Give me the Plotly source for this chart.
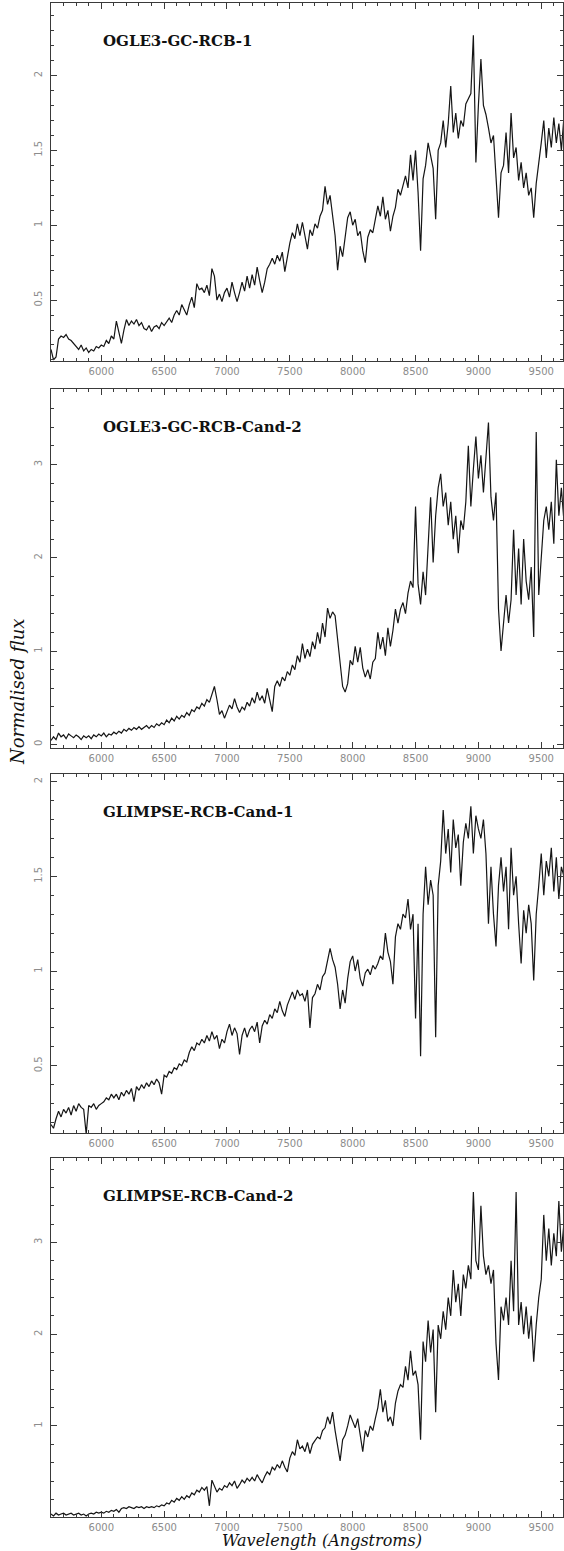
import plotly.graph_objects as go
from plotly.subplots import make_subplots

# Wavelength grid of the resampled spectra (Angstroms)
WAVELENGTH = list(range(5600, 9700, 20))

STAR_NAMES = [
    "OGLE3-GC-RCB-1",
    "OGLE3-GC-RCB-Cand-2",
    "GLIMPSE-RCB-Cand-1",
    "GLIMPSE-RCB-Cand-2",
]

FLUX_OGLE3_RCB_1 = [
    0.17, 0.10, 0.12, 0.24, 0.26,  0.25, 0.27, 0.24, 0.23, 0.21,
    0.19, 0.17, 0.20, 0.16, 0.18,  0.15, 0.17, 0.16, 0.19, 0.18,
    0.20, 0.19, 0.23, 0.21, 0.26,  0.24, 0.36, 0.28, 0.21, 0.30,
    0.37, 0.33, 0.36, 0.34, 0.37,  0.33, 0.35, 0.31, 0.30, 0.33,
    0.29, 0.32, 0.33, 0.31, 0.35,  0.33, 0.36, 0.38, 0.35, 0.40,
    0.43, 0.40, 0.47, 0.44, 0.40,  0.47, 0.52, 0.45, 0.61, 0.57,
    0.58, 0.55, 0.60, 0.53, 0.71,  0.66, 0.50, 0.54, 0.49, 0.55,
    0.58, 0.52, 0.62, 0.55, 0.49,  0.55, 0.62, 0.56, 0.66, 0.58,
    0.67, 0.60, 0.72, 0.63, 0.55,  0.62, 0.71, 0.74, 0.78, 0.74,
    0.80, 0.76, 0.82, 0.69, 0.79,  0.88, 0.95, 0.91, 1.01, 0.93,
    1.02, 0.92, 0.84, 0.97, 0.93,  1.01, 0.98, 1.06, 1.10, 1.26,
    1.14, 1.20, 1.06, 0.93, 0.70,  0.86, 0.79, 0.93, 1.05, 1.09,
    1.00, 1.04, 0.93, 0.96, 0.83,  0.75, 0.92, 0.97, 0.95, 1.04,
    1.13, 1.06, 1.19, 1.04, 1.10,  0.96, 1.06, 1.12, 1.24, 1.20,
    1.27, 1.33, 1.25, 1.47, 1.30,  1.50, 1.22, 0.83, 1.31, 1.40,
    1.55, 1.47, 1.38, 1.04, 1.50,  1.55, 1.70, 1.52, 1.68, 1.93,
    1.62, 1.75, 1.58, 1.70, 1.66,  1.81, 1.85, 1.88, 2.27, 1.42,
    1.80, 2.11, 1.80, 1.74, 1.65,  1.55, 1.60, 1.30, 1.05, 1.35,
    1.40, 1.62, 1.35, 1.75, 1.45,  1.52, 1.30, 1.42, 1.25, 1.35,
    1.20, 1.25, 1.05, 1.28, 1.40,  1.55, 1.70, 1.45, 1.65, 1.52,
    1.72, 1.55, 1.68, 1.50, 1.72,
]

FLUX_OGLE3_RCB_CAND_2 = [
    0.04, 0.08, 0.05, 0.12, 0.08,  0.10, 0.06, 0.11, 0.09, 0.07,
    0.10, 0.08, 0.05, 0.09, 0.07,  0.09, 0.06, 0.10, 0.08, 0.11,
    0.09, 0.12, 0.08, 0.11, 0.10,  0.13, 0.11, 0.14, 0.12, 0.16,
    0.14, 0.17, 0.15, 0.18, 0.16,  0.19, 0.16, 0.18, 0.20, 0.17,
    0.20, 0.18, 0.22, 0.20, 0.23,  0.21, 0.26, 0.23, 0.28, 0.25,
    0.30, 0.27, 0.31, 0.29, 0.34,  0.31, 0.37, 0.35, 0.40, 0.38,
    0.44, 0.41, 0.48, 0.45, 0.53,  0.62, 0.48, 0.32, 0.36, 0.28,
    0.35, 0.42, 0.38, 0.49, 0.40,  0.34, 0.40, 0.37, 0.45, 0.41,
    0.50, 0.44, 0.56, 0.47, 0.52,  0.44, 0.60, 0.48, 0.35, 0.62,
    0.68, 0.62, 0.72, 0.68, 0.78,  0.74, 0.85, 0.80, 0.95, 0.88,
    1.08, 0.92, 1.02, 0.94, 1.10,  1.02, 1.20, 1.08, 1.30, 1.15,
    1.46, 1.35, 1.42, 1.38, 1.10,  0.82, 0.62, 0.56, 0.65, 0.90,
    0.85, 1.05, 0.88, 1.04, 0.82,  0.72, 0.80, 0.70, 0.88, 0.92,
    1.20, 1.02, 1.15, 0.95, 1.25,  1.05, 1.22, 1.45, 1.30, 1.45,
    1.52, 1.40, 1.62, 1.75, 1.68,  2.55, 1.72, 1.50, 1.85, 1.60,
    2.10, 2.65, 1.95, 2.45, 2.75,  2.90, 2.55, 2.70, 2.35, 2.60,
    2.20, 2.45, 2.05, 2.40, 2.30,  2.60, 3.20, 2.55, 2.95, 3.30,
    2.85, 3.10, 2.70, 3.05, 3.45,  2.65, 2.40, 2.70, 1.45, 1.00,
    1.35, 1.60, 1.30, 1.55, 2.30,  1.60, 2.10, 1.50, 2.20, 1.75,
    1.55, 1.90, 1.15, 3.35, 1.60,  2.00, 2.40, 2.55, 2.30, 2.60,
    2.15, 3.05, 2.45, 2.75, 2.40,
]

FLUX_GLIMPSE_RCB_CAND_1 = [
    0.19, 0.17, 0.22, 0.26, 0.23,  0.27, 0.25, 0.28, 0.24, 0.29,
    0.26, 0.30, 0.28, 0.27, 0.14,  0.29, 0.28, 0.30, 0.27, 0.29,
    0.30, 0.31, 0.33, 0.32, 0.35,  0.33, 0.35, 0.32, 0.36, 0.34,
    0.37, 0.35, 0.38, 0.31, 0.39,  0.37, 0.40, 0.38, 0.41, 0.39,
    0.42, 0.40, 0.43, 0.41, 0.35,  0.45, 0.44, 0.47, 0.46, 0.49,
    0.48, 0.51, 0.50, 0.53, 0.52,  0.57, 0.60, 0.58, 0.62, 0.61,
    0.64, 0.62, 0.66, 0.63, 0.68,  0.64, 0.66, 0.59, 0.64, 0.62,
    0.68, 0.72, 0.66, 0.70, 0.67,  0.56, 0.66, 0.70, 0.65, 0.69,
    0.71, 0.68, 0.73, 0.62, 0.71,  0.74, 0.72, 0.77, 0.75, 0.80,
    0.78, 0.84, 0.79, 0.76, 0.82,  0.86, 0.89, 0.85, 0.90, 0.87,
    0.88, 0.84, 0.90, 0.70, 0.86,  0.88, 0.93, 0.90, 0.97, 0.99,
    1.05, 1.12, 1.06, 1.02, 0.93,  0.80, 0.90, 0.83, 0.96, 1.05,
    1.08, 1.00, 1.06, 0.96, 0.92,  0.99, 1.01, 0.98, 1.03, 1.01,
    1.04, 1.08, 1.06, 1.20, 1.10,  1.05, 0.93, 1.18, 1.25, 1.22,
    1.30, 1.28, 1.38, 1.22, 1.30,  0.75, 1.25, 0.55, 1.30, 1.55,
    1.35, 1.48, 1.40, 0.65, 1.45,  1.58, 1.85, 1.62, 1.75, 1.52,
    1.80, 1.65, 1.72, 1.45, 1.68,  1.78, 1.70, 1.87, 1.62, 1.82,
    1.75, 1.70, 1.80, 1.62, 1.25,  1.55, 1.30, 1.13, 1.45, 1.60,
    1.42, 1.55, 1.22, 1.65, 1.40,  1.50, 1.25, 1.04, 1.32, 1.20,
    1.35, 1.25, 0.95, 1.30, 1.45,  1.62, 1.40, 1.58, 1.50, 1.65,
    1.42, 1.60, 1.38, 1.55, 1.50,
]

FLUX_GLIMPSE_RCB_CAND_2 = [
    0.04, 0.02, 0.05, 0.03, 0.04,  0.05, 0.03, 0.04, 0.05, 0.03,
    0.04, 0.05, 0.03, 0.04, 0.02,  0.04, 0.05, 0.04, 0.06, 0.05,
    0.06, 0.05, 0.07, 0.06, 0.08,  0.07, 0.09, 0.06, 0.10, 0.11,
    0.10, 0.12, 0.11, 0.10, 0.12,  0.11, 0.12, 0.10, 0.12, 0.11,
    0.12, 0.11, 0.13, 0.12, 0.14,  0.13, 0.16, 0.15, 0.19, 0.17,
    0.21, 0.19, 0.23, 0.20, 0.24,  0.22, 0.27, 0.25, 0.30, 0.28,
    0.33, 0.30, 0.34, 0.13, 0.41,  0.35, 0.28, 0.32, 0.30, 0.35,
    0.33, 0.38, 0.35, 0.40, 0.32,  0.36, 0.41, 0.38, 0.43, 0.40,
    0.44, 0.40, 0.47, 0.42, 0.38,  0.45, 0.50, 0.47, 0.55, 0.52,
    0.58, 0.54, 0.62, 0.55, 0.50,  0.65, 0.72, 0.68, 0.85, 0.75,
    0.78, 0.72, 0.82, 0.70, 0.80,  0.84, 0.88, 0.86, 0.95, 0.98,
    1.10, 1.02, 1.15, 0.95, 0.80,  0.62, 0.85, 0.90, 1.00, 1.12,
    1.05, 0.98, 1.08, 0.92, 0.72,  0.95, 0.88, 1.00, 0.95, 1.08,
    1.20, 1.40, 1.15, 1.28, 1.05,  1.10, 1.00, 1.25, 1.38, 1.45,
    1.42, 1.65, 1.50, 1.82, 1.55,  1.60, 1.45, 0.85, 1.92, 1.70,
    2.15, 1.80, 2.05, 1.15, 2.10,  1.95, 2.25, 2.05, 2.40, 2.20,
    2.70, 2.35, 2.55, 2.20, 2.65,  2.50, 2.75, 2.60, 3.55, 2.80,
    2.70, 3.40, 2.85, 2.65, 2.75,  2.55, 2.70, 1.90, 1.50, 2.30,
    2.15, 2.40, 2.10, 2.80, 2.25,  3.55, 2.10, 2.35, 2.00, 2.30,
    1.95, 2.20, 1.70, 2.10, 2.40,  2.60, 3.30, 2.80, 3.15, 2.75,
    3.10, 2.85, 3.45, 2.90, 3.20,
]

FLUXES = [FLUX_OGLE3_RCB_1, FLUX_OGLE3_RCB_CAND_2,
          FLUX_GLIMPSE_RCB_CAND_1, FLUX_GLIMPSE_RCB_CAND_2]

Y_RANGES = [[0.093, 2.485], [-0.04, 3.81], [0.145, 2.04], [0.008, 3.92]]
Y_DTICK = [0.5, 1, 0.5, 1]
Y_MINOR = [0.1, 0.2, 0.1, 0.2]
X_RANGE = [5600, 9673]

# page geometry (pixels)
W, H = 564, 1551
LEFT, RIGHT = 51, 1
PANEL_PX = [(3, 361), (389, 748), (774, 1133), (1158, 1517)]
TITLE_Y_PX = [41, 427, 812, 1196]

plot_w = W - LEFT - RIGHT

fig = make_subplots(rows=4, cols=1)

axis_col = "#3a3a3a"
tick_font = dict(family="DejaVu Sans", size=10, color="#8c8c8c")

for i, flux in enumerate(FLUXES):
    row = i + 1
    fig.add_trace(
        go.Scatter(x=WAVELENGTH, y=flux, mode="lines",
                   line=dict(color="#151515", width=1.2),
                   showlegend=False, hoverinfo="skip"),
        row=row, col=1,
    )
    top, bot = PANEL_PX[i]
    fig.update_yaxes(
        row=row, col=1,
        domain=[1 - bot / H, 1 - top / H],
        range=Y_RANGES[i], dtick=Y_DTICK[i], tick0=0,
        showgrid=False, zeroline=False,
        showline=True, linecolor=axis_col, linewidth=1, mirror="allticks",
        ticks="inside", ticklen=6, tickcolor=axis_col, tickwidth=1,
        minor=dict(dtick=Y_MINOR[i], tick0=0, ticks="inside", ticklen=3,
                   tickcolor=axis_col, showgrid=False),
        tickangle=-90, tickfont=tick_font, ticklabelstandoff=4,
    )
    fig.update_xaxes(
        row=row, col=1,
        domain=[0, 1],
        range=X_RANGE, dtick=500, tick0=0,
        showgrid=False, zeroline=False,
        showline=True, linecolor=axis_col, linewidth=1, mirror="allticks",
        ticks="inside", ticklen=6, tickcolor=axis_col, tickwidth=1,
        minor=dict(dtick=100, tick0=0, ticks="inside", ticklen=3,
                   tickcolor=axis_col, showgrid=False),
        tickfont=tick_font, ticklabelstandoff=1,
    )
    fig.add_annotation(
        text=STAR_NAMES[i], xref="paper", yref="paper",
        x=(101 - LEFT) / plot_w, y=1 - TITLE_Y_PX[i] / H,
        xanchor="left", yanchor="middle", showarrow=False,
        font=dict(family="DejaVu Serif", size=15, color="#111111", weight="bold"),
    )

fig.add_annotation(
    text="<i>Normalised flux</i>", xref="paper", yref="paper",
    x=(17 - LEFT) / plot_w, y=1 - 692 / H, textangle=-90,
    xanchor="center", yanchor="middle", showarrow=False,
    font=dict(family="DejaVu Serif", size=18, color="#111111"),
)
fig.add_annotation(
    text="<i>Wavelength (Angstroms)</i>", xref="paper", yref="paper",
    x=(322 - LEFT) / plot_w, y=1 - 1540 / H,
    xanchor="center", yanchor="middle", showarrow=False,
    font=dict(family="DejaVu Serif", size=16, color="#111111"),
)

fig.update_layout(
    width=W, height=H,
    margin=dict(l=LEFT, r=RIGHT, t=0, b=0, pad=0),
    paper_bgcolor="white", plot_bgcolor="white",
)

fig.write_html("out.html")
